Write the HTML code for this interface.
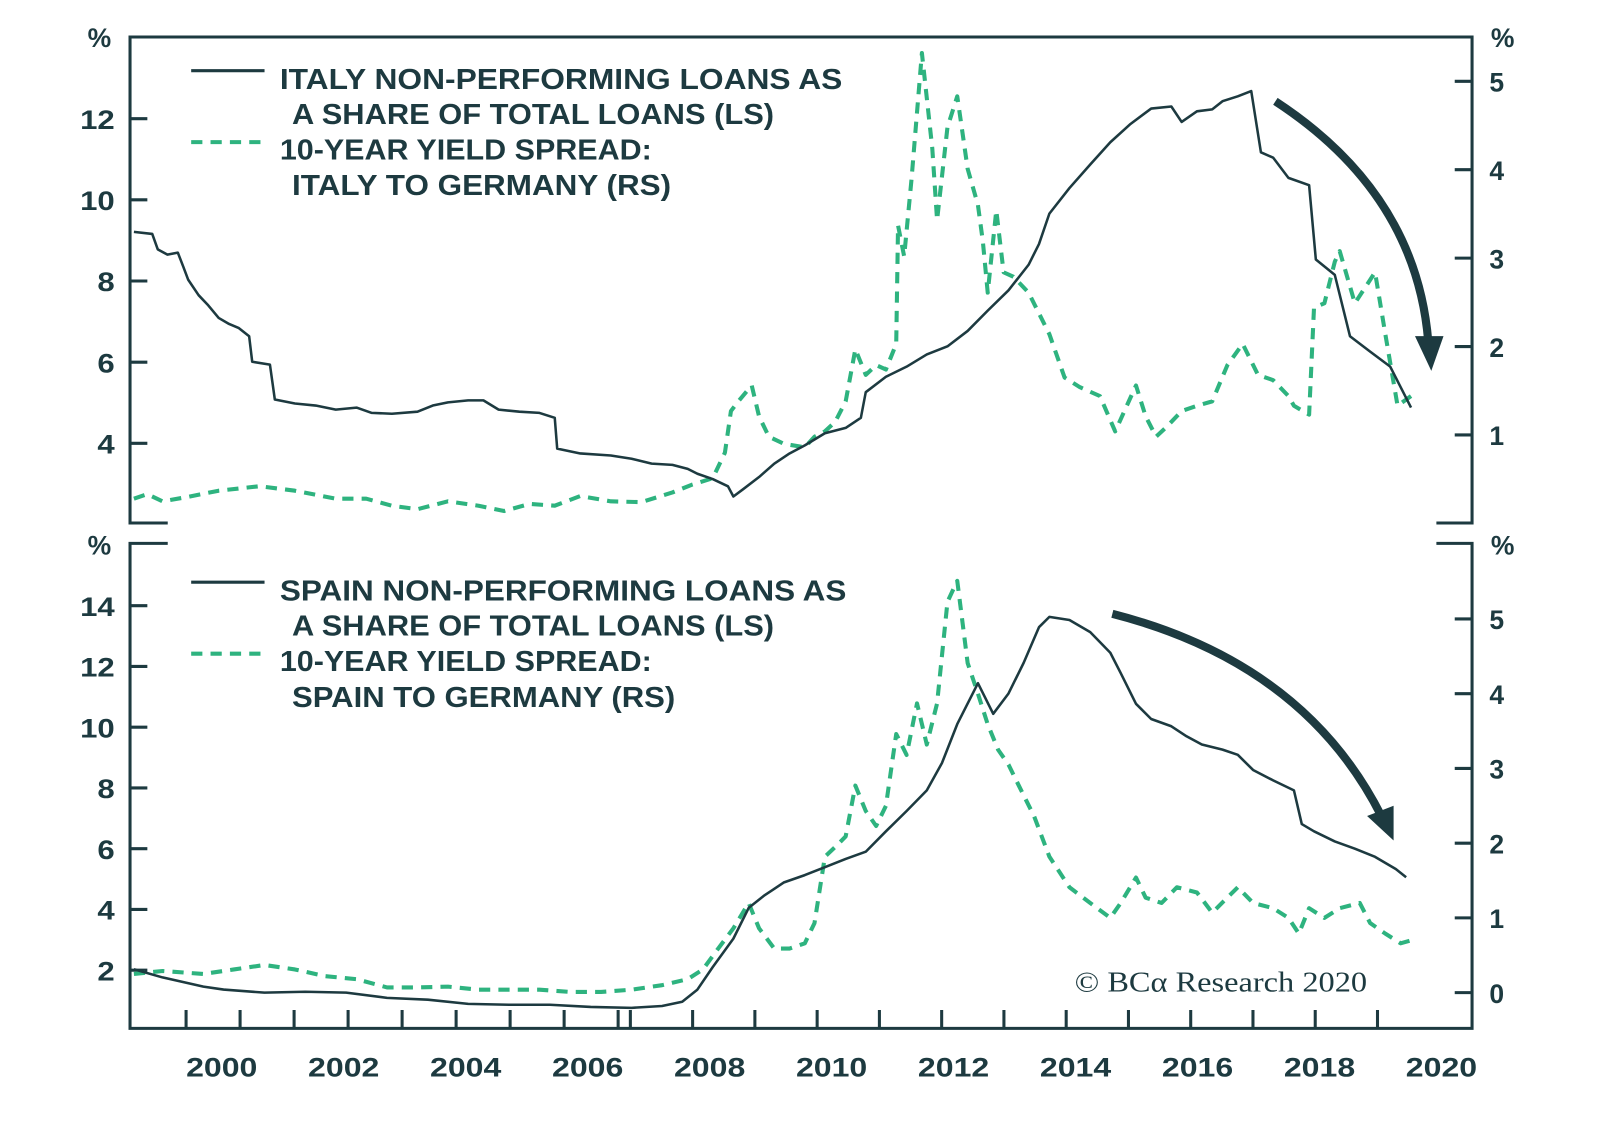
<!DOCTYPE html>
<html><head><meta charset="utf-8"><style>
html,body{margin:0;padding:0;background:#fff;}
svg{display:block;}
text{font-family:"Liberation Sans",sans-serif;font-weight:bold;fill:#1d3a40;}
</style></head><body>
<svg id="chart" width="1600" height="1132" viewBox="0 0 1600 1132" xmlns="http://www.w3.org/2000/svg">
<rect width="1600" height="1132" fill="#fff"/>
<g id="root" transform="translate(-0.4,-0.8) scale(1.019,1.021)">
  <g stroke="#1d3a40" stroke-width="3" fill="none">
    <path d="M165,513 H128 V37 H1445 V513 H1410"/>
  </g>
  <g stroke="#1d3a40" stroke-width="3" fill="none">
    <path d="M165,533 H128 V1008 H1445 V533 H1410"/>
  </g>
  <g id="ticks"></g>
  <g id="series"></g>
  <g>
    <line x1="188" y1="70" x2="260" y2="70" stroke="#1d3a40" stroke-width="3"/>
    <line x1="188" y1="140" x2="260" y2="140" stroke="#2eb37f" stroke-width="4" stroke-dasharray="11,8"/>
    <text x="275" y="88" font-size="28" textLength="552" lengthAdjust="spacingAndGlyphs">ITALY NON-PERFORMING LOANS AS</text>
    <text x="287" y="122" font-size="28" textLength="473" lengthAdjust="spacingAndGlyphs">A SHARE OF TOTAL LOANS (LS)</text>
    <text x="275" y="157" font-size="28" textLength="365" lengthAdjust="spacingAndGlyphs">10-YEAR YIELD SPREAD:</text>
    <text x="287" y="192" font-size="28" textLength="372" lengthAdjust="spacingAndGlyphs">ITALY TO GERMANY (RS)</text>
  </g>
  <g>
    <line x1="188" y1="571" x2="260" y2="571" stroke="#1d3a40" stroke-width="3"/>
    <line x1="188" y1="641" x2="260" y2="641" stroke="#2eb37f" stroke-width="4" stroke-dasharray="11,8"/>
    <text x="275" y="589" font-size="28" textLength="556" lengthAdjust="spacingAndGlyphs">SPAIN NON-PERFORMING LOANS AS</text>
    <text x="287" y="623" font-size="28" textLength="473" lengthAdjust="spacingAndGlyphs">A SHARE OF TOTAL LOANS (LS)</text>
    <text x="275" y="658" font-size="28" textLength="365" lengthAdjust="spacingAndGlyphs">10-YEAR YIELD SPREAD:</text>
    <text x="287" y="693" font-size="28" textLength="376" lengthAdjust="spacingAndGlyphs">SPAIN TO GERMANY (RS)</text>
  </g>
  <g>
    <path d="M1252,100 Q1390,190 1402,335" stroke="#1d3a40" stroke-width="8" fill="none"/>
    <path d="M1389,330 L1417,330 L1405,364 Z" fill="#1d3a40"/>
  </g>
  <g>
    <path d="M1092,602 Q1280,650 1356,800" stroke="#1d3a40" stroke-width="8" fill="none"/>
    <path d="M1342,800 L1368,790 L1368,824 Z" fill="#1d3a40"/>
  </g>
  <text x="98" y="47" font-size="26" text-anchor="middle" font-weight="normal">%</text>
  <text x="1475" y="47" font-size="26" text-anchor="middle" font-weight="normal">%</text>
  <text x="98" y="544" font-size="26" text-anchor="middle" font-weight="normal">%</text>
  <text x="1475" y="544" font-size="26" text-anchor="middle" font-weight="normal">%</text>
  <text x="1055" y="972" font-size="28" textLength="287" lengthAdjust="spacingAndGlyphs" style="font-family:'Liberation Serif',serif;font-weight:normal">© BCα Research 2020</text>
</g>
</svg>
<script>
var yearTicks = [2000,2002,2004,2006,2008,2010,2012,2014,2016,2018,2020];
var itTopLeftTicks = [4,6,8,10,12];
var itTopRightTicks = [1,2,3,4,5];
var esLeftTicks = [2,4,6,8,10,12,14];
var esRightTicks = [0,1,2,3,4,5];

var itNplT = [1998.56,1998.86,1998.95,1999.11,1999.28,1999.37,1999.45,1999.62,1999.78,1999.95,2000.12,2000.28,2000.45,2000.50,2000.79,2000.87,2001.20,2001.54,2001.87,2002.21,2002.46,2002.79,2003.21,2003.46,2003.71,2004.04,2004.29,2004.54,2004.88,2005.21,2005.46,2005.50,2005.88,2006.38,2006.72,2007.05,2007.39,2007.64,2007.80,2008.05,2008.30,2008.39,2008.55,2008.81,2009.06,2009.31,2009.56,2009.89,2010.23,2010.48,2010.56,2010.89,2011.23,2011.56,2011.90,2012.23,2012.56,2012.90,2013.23,2013.40,2013.57,2013.90,2014.24,2014.57,2014.90,2015.24,2015.57,2015.74,2015.99,2016.24,2016.41,2016.66,2016.88,2017.04,2017.24,2017.49,2017.83,2017.94,2018.25,2018.50,2018.83,2019.16,2019.50];
var itNplV = [9.21,9.16,8.78,8.65,8.70,8.35,8.03,7.65,7.40,7.09,6.94,6.84,6.64,6.01,5.94,5.08,4.98,4.93,4.83,4.88,4.75,4.73,4.78,4.93,5.01,5.06,5.06,4.83,4.78,4.75,4.63,3.87,3.75,3.70,3.62,3.50,3.47,3.37,3.25,3.12,2.94,2.69,2.87,3.17,3.50,3.75,3.95,4.25,4.38,4.63,5.26,5.64,5.89,6.19,6.39,6.77,7.27,7.77,8.40,8.91,9.66,10.29,10.87,11.42,11.87,12.25,12.30,11.92,12.18,12.23,12.43,12.55,12.68,11.17,11.04,10.54,10.36,8.53,8.15,6.64,6.26,5.89,4.88];

var itSprT = [1998.56,1998.78,1999.03,1999.45,1999.95,2000.62,2001.20,2001.87,2002.37,2002.79,2003.21,2003.71,2004.21,2004.63,2005.05,2005.46,2005.88,2006.38,2006.88,2007.39,2007.72,2008.05,2008.25,2008.35,2008.47,2008.69,2008.81,2008.97,2009.22,2009.56,2009.72,2009.89,2010.06,2010.23,2010.39,2010.56,2010.73,2010.89,2011.06,2011.09,2011.19,2011.31,2011.48,2011.65,2011.73,2011.90,2012.06,2012.23,2012.40,2012.48,2012.56,2012.70,2012.82,2012.98,2013.23,2013.57,2013.82,2014.07,2014.40,2014.65,2014.99,2015.15,2015.32,2015.49,2015.74,2015.99,2016.24,2016.49,2016.74,2016.99,2017.24,2017.49,2017.58,2017.83,2017.91,2018.08,2018.25,2018.33,2018.58,2018.91,2019.08,2019.28,2019.50];
var itSprV = [0.28,0.33,0.25,0.30,0.37,0.42,0.37,0.28,0.28,0.20,0.16,0.25,0.20,0.14,0.22,0.20,0.31,0.25,0.24,0.35,0.44,0.51,0.80,1.27,1.38,1.56,1.21,0.98,0.90,0.86,0.98,1.04,1.15,1.38,1.97,1.68,1.79,1.74,2.03,3.37,3.02,3.89,5.32,4.24,3.43,4.48,4.83,4.01,3.60,3.19,2.61,3.54,2.84,2.79,2.61,2.14,1.65,1.54,1.44,1.04,1.56,1.21,0.98,1.09,1.27,1.33,1.38,1.79,2.03,1.68,1.62,1.44,1.33,1.23,2.44,2.49,2.96,3.08,2.49,2.84,2.14,1.33,1.44];

var esNplT = [1998.56,1999.03,1999.70,2000.03,2000.70,2001.37,2002.04,2002.71,2003.38,2004.04,2004.71,2005.38,2006.05,2006.72,2007.22,2007.55,2007.80,2008.05,2008.39,2008.64,2008.89,2009.22,2009.56,2009.89,2010.23,2010.56,2010.89,2011.23,2011.56,2011.81,2012.06,2012.40,2012.65,2012.90,2013.15,2013.40,2013.57,2013.90,2014.24,2014.57,2014.74,2014.99,2015.24,2015.57,2015.82,2016.07,2016.41,2016.66,2016.91,2017.24,2017.58,2017.71,2017.91,2018.25,2018.58,2018.91,2019.25,2019.42];
var esNplV = [2.03,1.76,1.46,1.36,1.26,1.29,1.26,1.09,1.03,0.89,0.86,0.86,0.79,0.76,0.82,0.96,1.36,2.10,3.04,4.05,4.45,4.89,5.13,5.39,5.66,5.90,6.57,7.24,7.92,8.82,10.10,11.45,10.44,11.11,12.12,13.29,13.63,13.53,13.13,12.45,11.78,10.77,10.27,10.03,9.70,9.43,9.26,9.09,8.59,8.25,7.92,6.81,6.57,6.24,6.00,5.73,5.33,5.06];

var esSprT = [1998.56,1999.03,1999.70,2000.20,2000.70,2001.20,2001.70,2002.21,2002.71,2003.21,2003.71,2004.21,2004.71,2005.21,2005.71,2006.22,2006.72,2007.22,2007.64,2007.89,2008.14,2008.39,2008.64,2008.81,2009.06,2009.31,2009.56,2009.72,2009.89,2010.06,2010.23,2010.39,2010.56,2010.73,2010.89,2011.06,2011.23,2011.40,2011.56,2011.73,2011.90,2012.06,2012.23,2012.40,2012.56,2012.73,2012.90,2013.07,2013.32,2013.57,2013.90,2014.24,2014.57,2014.74,2014.99,2015.15,2015.41,2015.66,2015.99,2016.24,2016.66,2016.91,2017.24,2017.49,2017.66,2017.83,2018.08,2018.33,2018.66,2018.83,2019.08,2019.33,2019.50];
var esSprV = [0.25,0.29,0.25,0.31,0.37,0.31,0.22,0.18,0.07,0.07,0.08,0.04,0.04,0.04,0.01,0.01,0.04,0.10,0.18,0.31,0.59,0.86,1.20,0.86,0.59,0.59,0.66,0.93,1.82,1.95,2.09,2.77,2.43,2.23,2.50,3.46,3.18,3.87,3.32,3.87,5.23,5.51,4.41,4.00,3.59,3.25,3.05,2.77,2.36,1.82,1.41,1.20,1.00,1.20,1.54,1.27,1.20,1.41,1.34,1.07,1.41,1.20,1.13,1.00,0.79,1.13,1.00,1.13,1.20,0.93,0.79,0.66,0.70];

var NS = 'http://www.w3.org/2000/svg';
function xS(t){ return 218 + (t - 2000) * 59.85; }
function yTopL(v){ return 117 + (12 - v) * 39.75; }
function yTopR(v){ return 426.8 - (v - 1) * 86.6; }
function yBotL(v){ return 951 - (v - 2) * 29.75; }
function yBotR(v){ return 973 - v * 73.2; }

function mk(tag, attrs, parent){
  var e = document.createElementNS(NS, tag);
  for (var k in attrs) e.setAttribute(k, attrs[k]);
  parent.appendChild(e);
  return e;
}
var ticksG = document.getElementById('ticks');
var seriesG = document.getElementById('series');

function leftAxis(vals, fy, name){
  vals.forEach(function(v){
    var y = fy(v);
    var l = mk('line', {x1:128,y1:y,x2:145,y2:y,stroke:'#1d3a40','stroke-width':3}, ticksG);
    
    
    var s = String(v);
    var t = mk('text', {x:113,y:y+10,'font-size':26,'text-anchor':'end',textLength:17*s.length,lengthAdjust:'spacingAndGlyphs'}, ticksG);
    t.textContent = s;
    
    
  });
}
function rightAxis(vals, fy, name){
  vals.forEach(function(v){
    var y = fy(v);
    var l = mk('line', {x1:1428,y1:y,x2:1445,y2:y,stroke:'#1d3a40','stroke-width':3}, ticksG);
    
    
    var t = mk('text', {x:1462,y:y+10,'font-size':26,'text-anchor':'start'}, ticksG);
    t.textContent = v;
    
    
  });
}
leftAxis(itTopLeftTicks, yTopL, 'top-left-axis');
rightAxis(itTopRightTicks, yTopR, 'top-right-axis');
leftAxis(esLeftTicks, yBotL, 'bottom-left-axis');
rightAxis(esRightTicks, yBotR, 'bottom-right-axis');

for (var i = 0; i < 22; i++){
  var tx = i < 9 ? 183 + 53 * i : 619 + 61.1 * (i - 9);
  var tm = mk('line', {x1:tx,y1:990,x2:tx,y2:1008,stroke:'#1d3a40','stroke-width':3}, ticksG);
  
  
}
yearTicks.forEach(function(yr){
  var t = mk('text', {x:xS(yr)-35,y:1055,'font-size':26,textLength:70,lengthAdjust:'spacingAndGlyphs'}, ticksG);
  t.textContent = yr;
  
  
});

function line(ts, vs, fy, dashed, name){
  var d = '';
  for (var i = 0; i < ts.length; i++){
    d += (i ? 'L' : 'M') + xS(ts[i]).toFixed(1) + ',' + fy(vs[i]).toFixed(1);
  }
  var p = mk('path', {d:d, fill:'none', stroke: dashed ? '#2eb37f' : '#1d3a40', 'stroke-width': dashed ? 4 : 2.5, 'stroke-linejoin':'round'}, seriesG);
  if (dashed) p.setAttribute('stroke-dasharray', '11,8');
  
  
}
line(itSprT, itSprV, yTopR, true, 'italy-spread-line');
line(itNplT, itNplV, yTopL, false, 'italy-npl-line');
line(esSprT, esSprV, yBotR, true, 'spain-spread-line');
line(esNplT, esNplV, yBotL, false, 'spain-npl-line');
</script>
</body></html>
